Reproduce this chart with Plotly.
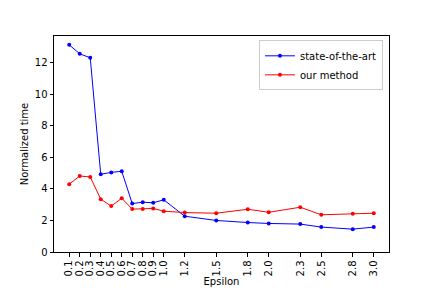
import plotly.graph_objects as go

epsilon = [0.1, 0.2, 0.3, 0.4, 0.5, 0.6, 0.7, 0.8, 0.9, 1.0, 1.2, 1.5, 1.8, 2.0, 2.3, 2.5, 2.8, 3.0]
state_of_the_art = [13.14, 12.57, 12.32, 4.93, 5.05, 5.12, 3.07, 3.16, 3.12, 3.31,
                    2.27, 2.00, 1.87, 1.81, 1.77, 1.58, 1.45, 1.58]
our_method = [4.30, 4.82, 4.76, 3.35, 2.91, 3.41, 2.72, 2.72, 2.76, 2.59,
              2.50, 2.46, 2.71, 2.52, 2.84, 2.36, 2.42, 2.46]
tick_labels = [f"{e:.1f}" for e in epsilon]
y_ticks = [0, 2, 4, 6, 8, 10, 12]

fig = go.Figure()
fig.add_trace(go.Scatter(x=epsilon, y=state_of_the_art, mode="lines+markers",
                         name="state-of-the-art",
                         line=dict(color="blue", width=1),
                         marker=dict(color="blue", size=4)))
fig.add_trace(go.Scatter(x=epsilon, y=our_method, mode="lines+markers",
                         name="our method",
                         line=dict(color="red", width=1),
                         marker=dict(color="red", size=4)))

axis_common = dict(showgrid=False, zeroline=False, showline=True, linecolor="black",
                   linewidth=1, mirror=True, ticks="outside", ticklen=3.5,
                   tickcolor="black", tickfont=dict(size=10, color="black"),
                   automargin=False)

fig.update_layout(
    width=432, height=288,
    margin=dict(l=54, r=43, t=36, b=36),
    paper_bgcolor="white", plot_bgcolor="white",
    font=dict(family="DejaVu Sans", size=10, color="black"),
    xaxis=dict(range=[-0.045, 3.145], tickmode="array", tickvals=epsilon,
               ticktext=tick_labels, tickangle=-90,
               title=dict(text="Epsilon", font=dict(size=10), standoff=2),
               **axis_common),
    yaxis=dict(range=[0, 13.7], tickmode="array", tickvals=y_ticks,
               title=dict(text="Normalized time", font=dict(size=10), standoff=4),
               **axis_common),
    legend=dict(x=0.982, y=0.98, xanchor="right", yanchor="top",
                bgcolor="rgba(255,255,255,0.8)", bordercolor="#cccccc", borderwidth=1,
                font=dict(size=10), tracegroupgap=0, itemwidth=30),
    showlegend=True,
)

fig.write_html("out.html", config={"displayModeBar": False},
               post_script="document.body.style.margin='0';document.body.style.padding='0';")
